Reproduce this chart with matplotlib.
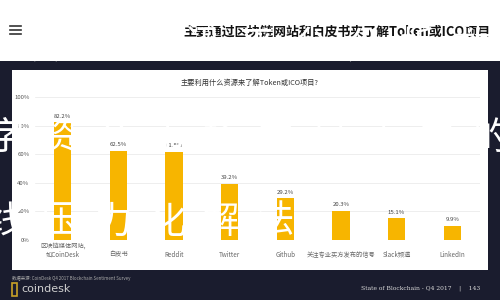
import matplotlib
matplotlib.use("Agg")
import matplotlib.pyplot as plt
from matplotlib.patches import Rectangle
from matplotlib.transforms import blended_transform_factory

plt.rcParams['font.family'] = ['Noto Sans CJK SC', 'DejaVu Sans']

categories = ["区块链媒体网站,\n如CoinDesk", "白皮书", "Reddit", "Twitter", "Github",
              "关注专业买方发布的信号", "Slack频道", "LinkedIn"]
values = [82.2, 62.5, 61.8, 39.2, 29.2, 20.3, 15.1, 9.9]
yticks = [0, 20, 40, 60, 80, 100]
ytick_labels = ["0%", "20%", "40%", "60%", "80%", "100%"]

header = "主要通过区块链网站和白皮书来了解Token或ICO项目"
chart_title = "主要利用什么资源来了解Token或ICO项目?"
source = "数据来源: CoinDesk Q4 2017 Blockchain Sentiment Survey"
footer_right = "State of Blockchain - Q4 2017    |    143"
overlay_lines = ["块链资讯平台分析数字", "字资产市场中最重要的", "线压力化解法"]

W, H = 500, 300
NAVY = "#1a1c2e"
BAR = "#f7b500"

fig = plt.figure(figsize=(5, 3), dpi=100, facecolor=NAVY)

def fx(x):
    return x / W

def fy(y):
    return 1 - y / H

# top white band
fig.patches.append(Rectangle((0, fy(61)), 1, 1 - fy(61), transform=fig.transFigure,
                             facecolor="white", edgecolor="none", zorder=-2))
# white panel
fig.patches.append(Rectangle((fx(12), fy(270)), fx(488) - fx(12), fy(70) - fy(270),
                             transform=fig.transFigure, facecolor="white",
                             edgecolor="none", zorder=-2))

# hamburger
for yy in (26, 30, 34):
    fig.add_artist(plt.Line2D([fx(10), fx(21)], [fy(yy), fy(yy)], color="#333333",
                              lw=1.2, transform=fig.transFigure, zorder=20))

fig.text(fx(490), fy(32), header, ha="right", va="center", fontsize=9.3,
         fontweight="bold", color="#111111")

# chart axes
ax = fig.add_axes([fx(35), fy(240), fx(480) - fx(35), fy(97) - fy(240)])
ax.set_facecolor("none")
ax.set_zorder(1)
x = list(range(len(categories)))
ax.bar(x, values, width=0.31, color=BAR, zorder=2)
ax.set_xlim(-0.5, len(categories) - 0.5)
ax.set_ylim(0, 100)
ax.set_yticks(yticks)
ax.set_yticklabels(ytick_labels, fontsize=4.3, color="#555555")
ax.tick_params(axis="y", length=0, pad=4)
ax.set_xticks([])
ax.grid(axis="y", color="#e8e8e8", lw=0.5, zorder=0)
for s in ax.spines.values():
    s.set_visible(False)
for xi, v in zip(x, values):
    ax.text(xi, v + 2.5, f"{v:.1f}%", ha="center", va="bottom", fontsize=4.3,
            color="#444444")
tr = blended_transform_factory(ax.transData, ax.transAxes)
for xi, c in zip(x, categories):
    ax.text(xi, -0.13, c, ha="center", va="bottom", fontsize=4.5, color="#666666",
            transform=tr, linespacing=1.2)

fig.text(fx(250), fy(83), chart_title, ha="center", va="center", fontsize=5.2,
         color="#333333")

# footer
fig.text(fx(12), fy(278), source, ha="left", va="center", fontsize=3.2, color="#aaaaaa")
fig.patches.append(Rectangle((fx(12), fy(296)), fx(5), fy(283) - fy(296),
                             transform=fig.transFigure, facecolor="none",
                             edgecolor="#c9a227", lw=1.2))
fig.text(fx(21), fy(289), "coindesk", ha="left", va="center", fontsize=8,
         color="#d0d0d0", family="DejaVu Sans")
fig.text(fx(480), fy(288), footer_right, ha="right", va="center", fontsize=4.3,
         color="#dddddd", family="DejaVu Serif")

# large white overlay text
line_y = [47, 138, 222]
line_x0 = [40, 5, 5]
for ly, lx, line in zip(line_y, line_x0, overlay_lines):
    for i, ch in enumerate(line):
        fig.text(fx(lx + 54 * i), fy(ly), ch, ha="center", va="center", fontsize=27,
                 fontweight="normal", color="white", zorder=10)

fig.savefig("out.png", dpi=100, facecolor=NAVY)
